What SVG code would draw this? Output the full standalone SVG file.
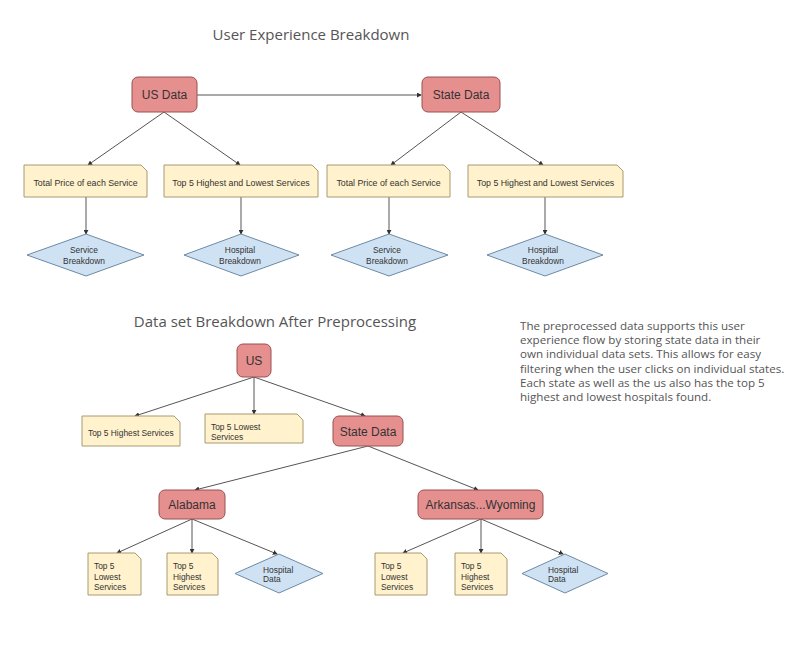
<svg xmlns="http://www.w3.org/2000/svg" width="798" height="661" viewBox="0 0 798 661">
<style>
.title{font-family:"Open Sans","Noto Sans",sans-serif;font-size:15px;fill:#555;}
.para{font-family:"Open Sans","Noto Sans",sans-serif;font-size:11.6px;fill:#555;}
.box{fill:#e58f8f;stroke:#9a5050;stroke-width:1;}
.btxt{font-family:"Liberation Sans",Arial,sans-serif;font-size:12px;fill:#333;text-anchor:middle;}
.note{fill:#fff2cc;stroke:#a89a70;stroke-width:1;}
.dia{fill:#cfe2f3;stroke:#6d8aa5;stroke-width:1;}
.st{font-family:"Liberation Sans",Arial,sans-serif;font-size:8.4px;fill:#333;}
.big{font-size:8.8px;}
.mid{text-anchor:middle;}
.conn line{stroke:#555;stroke-width:1;marker-end:url(#ah);}
</style>
<defs>
<marker id="ah" viewBox="0 0 6 6" refX="5" refY="3" markerWidth="5" markerHeight="5" orient="auto">
<path d="M0,0 L6,3 L0,6 z" fill="#333"/>
</marker>
</defs>
<rect width="798" height="661" fill="#fff"/>
<text class="title" x="311" y="40" text-anchor="middle">User Experience Breakdown</text>
<text class="title" x="275" y="327" text-anchor="middle">Data set Breakdown After Preprocessing</text>
<g id="paragraph" class="para">
<text x="520" y="330">The preprocessed data supports this user</text>
<text x="520" y="344">experience flow by storing state data in their</text>
<text x="520" y="358">own individual data sets. This allows for easy</text>
<text x="520" y="373">filtering when the user clicks on individual states.</text>
<text x="520" y="387">Each state as well as the us also has the top 5</text>
<text x="520" y="401">highest and lowest hospitals found.</text>
</g>
<g class="conn" id="connectors">
<line x1="197" y1="95" x2="421" y2="95"/>
<line x1="164" y1="112" x2="88" y2="165"/>
<line x1="164" y1="112" x2="240" y2="165"/>
<line x1="86" y1="197" x2="86" y2="234"/>
<line x1="241" y1="197" x2="241" y2="234"/>
<line x1="461" y1="112" x2="391" y2="165"/>
<line x1="461" y1="112" x2="543" y2="165"/>
<line x1="389" y1="197" x2="389" y2="234"/>
<line x1="545" y1="197" x2="545" y2="234"/>
<line x1="254" y1="377" x2="135" y2="416"/>
<line x1="254" y1="377" x2="254" y2="414"/>
<line x1="254" y1="377" x2="365" y2="416"/>
<line x1="368" y1="446" x2="195" y2="490"/>
<line x1="368" y1="446" x2="478" y2="490"/>
<line x1="192" y1="519" x2="117" y2="553"/>
<line x1="192" y1="519" x2="192" y2="553"/>
<line x1="192" y1="519" x2="277" y2="554"/>
<line x1="481" y1="519" x2="403" y2="553"/>
<line x1="481" y1="519" x2="481" y2="553"/>
<line x1="481" y1="519" x2="563" y2="554"/>
</g>
<g id="us-data"><rect class="box" x="132" y="77" width="65" height="35" rx="6"/><text class="btxt" x="164.5" y="99">US Data</text></g>
<g id="state-data"><rect class="box" x="422" y="77" width="78" height="35" rx="6"/><text class="btxt" x="461" y="99">State Data</text></g>
<g id="n-total1"><path class="note" d="M24,165 H141 L147,171 V197 H24 Z"/><text class="st big mid" x="85.5" y="186">Total Price of each Service</text></g>
<g id="n-top1"><path class="note" d="M164,165 H312 L318,171 V197 H164 Z"/><text class="st big mid" x="241" y="186">Top 5 Highest and Lowest Services</text></g>
<g id="n-total2"><path class="note" d="M327,165 H444 L450,171 V197 H327 Z"/><text class="st big mid" x="388.5" y="186">Total Price of each Service</text></g>
<g id="n-top2"><path class="note" d="M468,165 H617 L623,171 V197 H468 Z"/><text class="st big mid" x="545.5" y="186">Top 5 Highest and Lowest Services</text></g>
<g id="d-service1"><path class="dia" d="M86,234 L144,255 L86,276 L27,255 Z"/><text class="st mid" x="84" y="253">Service</text><text class="st mid" x="84" y="264">Breakdown</text></g>
<g id="d-hosp1"><path class="dia" d="M241,234 L299,255 L241,276 L184,255 Z"/><text class="st mid" x="240" y="253">Hospital</text><text class="st mid" x="240" y="264">Breakdown</text></g>
<g id="d-service2"><path class="dia" d="M389,234 L448,255 L389,276 L331,255 Z"/><text class="st mid" x="387" y="253">Service</text><text class="st mid" x="387" y="264">Breakdown</text></g>
<g id="d-hosp2"><path class="dia" d="M545,234 L603,255 L545,276 L487,255 Z"/><text class="st mid" x="543" y="253">Hospital</text><text class="st mid" x="543" y="264">Breakdown</text></g>
<g id="us"><rect class="box" x="237" y="344" width="34" height="33" rx="6"/><text class="btxt" x="254" y="365">US</text></g>
<g id="n-high"><path class="note" d="M82,416 H174 L180,422 V446 H82 Z"/><text class="st" x="88" y="436">Top 5 Highest Services</text></g>
<g id="n-low"><path class="note" d="M205,414 H297 L303,420 V443 H205 Z"/><text class="st" x="211" y="430">Top 5 Lowest</text><text class="st" x="211" y="440">Services</text></g>
<g id="state-data-2"><rect class="box" x="333" y="416" width="70" height="30" rx="6"/><text class="btxt" x="368" y="435.5">State Data</text></g>
<g id="alabama"><rect class="box" x="159" y="490" width="66" height="29" rx="6"/><text class="btxt" x="192" y="509">Alabama</text></g>
<g id="arkansas"><rect class="box" x="418" y="490" width="125" height="29" rx="6"/><text class="btxt" x="480.5" y="509">Arkansas...Wyoming</text></g>
<g id="al-low"><path class="note" d="M88,553 H135 L141,559 V595 H88 Z"/><text class="st" x="94" y="569">Top 5</text><text class="st" x="94" y="580">Lowest</text><text class="st" x="94" y="590">Services</text></g>
<g id="al-high"><path class="note" d="M167,553 H212 L218,559 V595 H167 Z"/><text class="st" x="173" y="569">Top 5</text><text class="st" x="173" y="580">Highest</text><text class="st" x="173" y="590">Services</text></g>
<g id="al-hosp"><path class="dia" d="M279,554 L323,573.5 L279,593 L235,573.5 Z"/><text class="st" x="263" y="573">Hospital</text><text class="st" x="263" y="582">Data</text></g>
<g id="ar-low"><path class="note" d="M375,553 H421 L427,559 V595 H375 Z"/><text class="st" x="381" y="569">Top 5</text><text class="st" x="381" y="580">Lowest</text><text class="st" x="381" y="590">Services</text></g>
<g id="ar-high"><path class="note" d="M455,553 H501 L507,559 V595 H455 Z"/><text class="st" x="461" y="569">Top 5</text><text class="st" x="461" y="580">Highest</text><text class="st" x="461" y="590">Services</text></g>
<g id="ar-hosp"><path class="dia" d="M565,554 L608,573.5 L565,593 L522,573.5 Z"/><text class="st" x="548" y="573">Hospital</text><text class="st" x="548" y="582">Data</text></g>
</svg>
